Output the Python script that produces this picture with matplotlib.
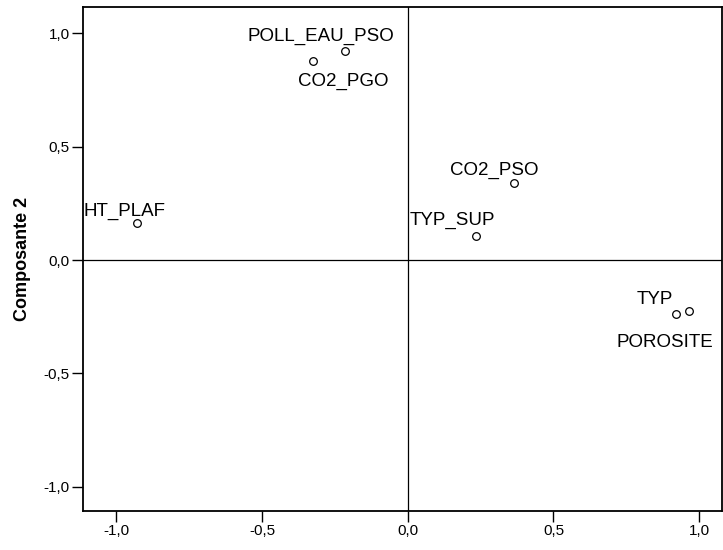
import matplotlib
matplotlib.use("Agg")
from matplotlib import pyplot as plt

# component loadings
names = ["POLL_EAU_PSO", "CO2_PGO", "CO2_PSO", "TYP_SUP", "HT_PLAF", "TYP", "POROSITE"]
comp1 = [-0.215, -0.326, 0.366, 0.233, -0.93, 0.966, 0.920]
comp2 = [0.923, 0.876, 0.338, 0.106, 0.162, -0.224, -0.240]

xticks = [-1.0, -0.5, 0.0, 0.5, 1.0]
yticks = [-1.0, -0.5, 0.0, 0.5, 1.0]

# label placement, offset from the point in pixels (left edge, vertical anchor)
offsets = {
    "POLL_EAU_PSO": (-98, 10, "baseline"),
    "CO2_PGO": (-15, -11, "top"),
    "CO2_PSO": (-64, 9, "baseline"),
    "TYP_SUP": (-66, 11, "baseline"),
    "HT_PLAF": (-53, 8, "baseline"),
    "TYP": (-53, 7, "baseline"),
    "POROSITE": (-59, -20, "top"),
}

plt.rcParams['font.family'] = ['Liberation Sans', 'DejaVu Sans']

fig = plt.figure(figsize=(7.23, 5.5), dpi=100)
ax = fig.add_axes([0.1144, 0.0709, 0.8842, 0.9158])

ax.axhline(0, color="black", lw=0.9, zorder=1)
ax.axvline(0, color="black", lw=0.9, zorder=1)

ax.plot(comp1, comp2, "o", ms=5.5, mfc="white", mec="black", mew=0.9, zorder=3)

for n, x, y in zip(names, comp1, comp2):
    dx, dy, va = offsets[n]
    ax.annotate(n, (x, y), xytext=(dx, dy), textcoords="offset pixels",
                ha="left", va=va, fontsize=13.5, color="black")

ax.set_xlim(-1.115, 1.078)
ax.set_ylim(-1.107, 1.115)
ax.set_xticks(xticks)
ax.set_yticks(yticks)
ax.set_xticklabels([f"{t:.1f}".replace(".", ",") for t in xticks])
ax.set_yticklabels([f"{t:.1f}".replace(".", ",") for t in yticks])
ax.tick_params(direction="out", length=8, width=1, labelsize=11, pad=1.5)
for s in ax.spines.values():
    s.set_linewidth(1.3)

ax.set_ylabel("Composante 2", fontsize=13, fontweight="bold", labelpad=9)

fig.savefig("out.png", dpi=100)
